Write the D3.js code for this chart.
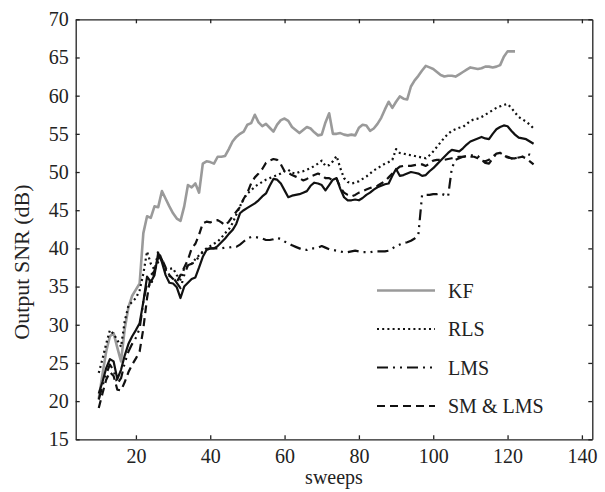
<!doctype html>
<html lang="en">
	<head>
		<meta charset="utf-8" />
		<title>Output SNR vs sweeps</title>
		<script type="text/javascript" src="https://cdn.jsdelivr.net/npm/d3@7"></script>
		<style>
			body { margin: 0; background: #fff; }
			svg text { font-family: "Liberation Serif", "Times New Roman", serif; fill: #222; }
		</style>
	</head>
	<body>
		<script type="text/javascript">
			var w = 605;
			var h = 492;

			// sweep numbers, one value per sweep
			var sweeps = d3.range(10, 128);
			var xTicks = [20, 40, 60, 80, 100, 120, 140];
			var yTicks = [15, 20, 25, 30, 35, 40, 45, 50, 55, 60, 65, 70];
			var legendNames = ["KF", "RLS", "LMS", "SM & LMS"];

			// KF stops at sweep 122
			var kfSNR = [20.3, 23.5, 26.5, 28.5, 28.9, 27.0, 25.2, 29.5, 32.3, 33.8,
				34.6, 35.4, 42.0, 44.2, 44.0, 45.5, 45.4, 47.5, 46.5, 45.5,
				44.6, 43.9, 43.6, 45.5, 48.3, 48.0, 48.5, 47.3, 51.1, 51.4,
				51.3, 51.1, 52.0, 52.0, 52.1, 53.0, 54.0, 54.6, 55.0, 55.3,
				56.2, 56.4, 57.5, 56.5, 56.0, 56.3, 55.8, 55.3, 56.2, 56.8,
				57.0, 56.7, 55.9, 55.5, 55.1, 55.5, 55.9, 55.7, 55.2, 54.8,
				54.9, 56.5, 57.7, 55.0, 55.0, 55.1, 54.9, 54.8, 54.9, 54.8,
				55.8, 56.2, 56.1, 55.4, 55.7, 56.3, 57.1, 58.2, 59.2, 58.4,
				59.2, 59.9, 59.6, 59.5, 61.2, 62.0, 62.6, 63.3, 63.9, 63.7,
				63.5, 63.1, 62.7, 62.5, 62.6, 62.6, 62.5, 62.8, 63.1, 63.4,
				63.7, 63.6, 63.5, 63.6, 63.8, 63.8, 63.7, 63.8, 64.0, 65.1,
				65.8, 65.8, 65.8];

			var rlsSNR = [23.7, 25.5, 27.5, 29.3, 28.8, 28.0, 27.1, 30.5, 32.5, 33.0,
				33.5, 34.5, 36.7, 39.6, 38.0, 37.2, 38.2, 38.5, 37.2, 37.3,
				37.4, 36.5, 35.9, 37.4, 37.7, 38.0, 38.6, 39.1, 39.6, 40.0,
				40.3, 40.6, 40.9, 41.4, 42.0, 42.5, 43.3, 44.4, 45.5, 46.5,
				47.2, 47.6, 48.1, 48.4, 48.7, 49.0, 49.2, 49.4, 49.6, 49.8,
				50.1, 50.3, 49.9, 49.8, 50.0, 50.1, 50.3, 50.5, 50.8, 51.1,
				51.5, 50.8, 50.9, 51.4, 52.1, 50.5, 49.2, 48.7, 48.5, 48.6,
				48.8, 49.1, 49.4, 49.8, 50.2, 50.5, 50.8, 51.1, 51.3, 51.6,
				53.0, 52.5, 52.4, 52.3, 52.2, 52.1, 52.0, 51.9, 51.8, 52.2,
				52.7, 53.3, 53.9, 54.5, 55.0, 55.4, 55.6, 55.8, 55.9, 56.3,
				56.7, 56.9, 57.0, 57.2, 57.5, 57.8, 58.1, 58.4, 58.6, 58.8,
				58.9, 58.4, 57.8, 57.2, 56.9, 56.6, 56.2, 55.7];

			// solid black curve, not named in the legend
			var solidSNR = [21.0, 22.5, 24.3, 25.5, 25.2, 22.9, 24.1, 26.0, 27.5, 28.5,
				29.3, 30.2, 33.0, 36.3, 35.6, 36.5, 39.4, 38.2, 36.5, 35.5,
				35.4, 34.9, 33.5, 35.0, 35.5, 36.0, 36.2, 37.5, 38.9, 39.8,
				40.0, 40.0, 40.3, 40.8, 41.3, 41.9, 42.4, 43.2, 44.6, 45.0,
				45.3, 45.6, 45.9, 46.3, 46.8, 47.2, 48.2, 49.1, 49.0, 48.5,
				47.6, 46.7, 46.9, 47.0, 47.1, 47.3, 47.5, 48.2, 48.6, 48.5,
				48.3, 47.6, 48.3, 49.0, 49.2, 47.8, 46.7, 46.3, 46.3, 46.4,
				46.3, 46.6, 47.0, 47.3, 47.7, 48.0, 48.2, 48.4, 48.5, 49.5,
				50.4, 49.5, 49.6, 49.8, 50.0, 49.9, 49.8, 49.5, 49.6, 50.1,
				50.5, 51.0, 51.5, 52.0, 52.5, 52.9, 52.8, 52.7, 53.1, 53.6,
				54.0, 54.2, 54.4, 54.6, 54.4, 54.3, 55.0, 55.6, 55.9, 56.1,
				56.0, 55.4, 54.9, 54.5, 54.4, 54.3, 54.0, 53.7];

			var lmsSNR = [20.2, 22.0, 23.5, 24.8, 24.0, 22.3, 23.0, 25.0, 26.5, 27.5,
				28.3, 29.5, 33.0, 35.5, 35.0, 37.0, 39.7, 38.5, 37.0, 36.4,
				36.2, 35.5, 34.8, 36.5, 37.8, 38.0, 38.2, 39.0, 39.5, 39.9,
				40.0, 40.0, 40.0, 40.0, 40.1, 40.1, 40.2, 40.2, 40.5, 40.9,
				41.3, 41.5, 41.5, 41.4, 41.3, 41.1, 41.1, 41.2, 41.4, 41.2,
				40.9, 40.7, 40.4, 40.2, 40.0, 39.8, 39.8, 40.0, 40.0, 40.1,
				40.3, 40.1, 39.9, 39.8, 39.7, 39.6, 39.5, 39.5, 39.6, 39.7,
				39.6, 39.5, 39.5, 39.5, 39.6, 39.6, 39.6, 39.6, 39.7, 40.0,
				40.3, 40.5, 40.7, 40.8, 41.0, 41.3, 41.8, 47.0, 47.0, 47.0,
				47.1, 47.1, 47.2, 47.0, 46.8, 50.5, 51.6, 51.8, 52.0, 52.1,
				52.2, 52.2, 52.1, 51.6, 51.2, 51.1, 51.8, 52.4, 52.5, 52.2,
				52.0, 51.8, 51.8, 51.9, 52.0, 52.2, 52.3, 52.2];

			var smSNR = [19.1, 21.0, 22.8, 23.8, 23.3, 21.5, 21.4, 22.5, 23.8, 24.8,
				25.6, 26.5, 29.5, 33.5, 36.5, 37.0, 38.8, 38.6, 37.5, 36.5,
				36.0, 35.6, 36.5, 37.5, 38.5, 40.0, 40.6, 41.8, 43.3, 43.5,
				43.4, 43.6, 43.7, 43.4, 43.0, 43.5, 44.2, 44.8, 45.4, 46.5,
				47.3, 48.5, 49.3, 49.8, 50.4, 51.2, 51.5, 51.7, 51.6, 51.0,
				50.1, 49.9, 49.6, 49.4, 49.2, 48.9, 49.1, 49.4, 49.6, 49.8,
				49.6, 49.2, 49.2, 48.9, 49.1, 48.0, 47.3, 47.0, 46.8, 47.0,
				47.3, 47.5, 47.7, 47.9, 48.1, 48.2, 48.5, 48.8, 49.3, 49.8,
				50.3, 50.7, 50.8, 50.8, 50.8, 50.9, 51.0, 51.0, 50.8, 51.1,
				51.5, 51.6, 51.6, 51.6, 51.7, 51.8, 51.9, 52.0, 52.0, 52.0,
				52.0, 52.0, 51.8, 51.5, 51.4, 51.6, 52.0, 52.4, 52.5, 52.2,
				51.9, 51.8, 51.8, 51.9, 52.0, 51.8, 51.4, 51.0];

			var plotLeft = 75.7, plotRight = 592.3, plotTop = 19.3, plotBottom = 439.3;

			var x = d3.scaleLinear().domain([3.8, 142.8]).range([plotLeft, plotRight]);
			var y = d3.scaleLinear().domain([15, 70]).range([plotBottom, plotTop]);

			var svg = d3.select("body")
				.append("svg")
				.attr("width", w)
				.attr("height", h);

			function pairUp(values) {
				return values.map(function(v, i) { return [sweeps[i], v]; });
			}

			var series = [
				{ values: kfSNR, color: "#9a9a9a", width: 2.6, dash: null },
				{ values: rlsSNR, color: "#111", width: 2.2, dash: "2,3.2" },
				{ values: solidSNR, color: "#111", width: 2.2, dash: null },
				{ values: lmsSNR, color: "#111", width: 2.2, dash: "11,5,2,5,2,5" },
				{ values: smSNR, color: "#111", width: 2.2, dash: "8,5" }
			];

			var line = d3.line()
				.x(function(d) { return x(d[0]); })
				.y(function(d) { return y(d[1]); });

			svg.append("g")
				.selectAll("path")
				.data(series)
				.enter()
				.append("path")
				.attr("d", function(d) { return line(pairUp(d.values)); })
				.attr("fill", "none")
				.attr("stroke", function(d) { return d.color; })
				.attr("stroke-width", function(d) { return d.width; })
				.attr("stroke-linejoin", "round")
				.attr("stroke-dasharray", function(d) { return d.dash; });

			// frame with inward ticks on all four sides
			var bottomAxis = d3.axisBottom(x).tickValues(xTicks).tickSizeInner(-4).tickSizeOuter(0).tickPadding(10);
			var topAxis = d3.axisTop(x).tickValues(xTicks).tickSizeInner(-4).tickSizeOuter(0).tickFormat("");
			var leftAxis = d3.axisLeft(y).tickValues(yTicks).tickSizeInner(-4).tickSizeOuter(0).tickPadding(7);
			var rightAxis = d3.axisRight(y).tickValues(yTicks).tickSizeInner(-4).tickSizeOuter(0).tickFormat("");

			function styleAxis(g) {
				g.attr("font-family", null);
				g.select(".domain").attr("stroke", "#222").attr("stroke-width", 1.3);
				g.selectAll(".tick line").attr("stroke", "#222").attr("stroke-width", 1.3);
				g.selectAll(".tick text")
					.attr("font-size", "20px")
					.attr("fill", "#222");
			}

			svg.append("g").attr("transform", "translate(0," + plotBottom + ")").call(bottomAxis).call(styleAxis);
			svg.append("g").attr("transform", "translate(0," + plotTop + ")").call(topAxis).call(styleAxis);
			svg.append("g").attr("transform", "translate(" + plotLeft + ",0)").call(leftAxis).call(styleAxis);
			svg.append("g").attr("transform", "translate(" + plotRight + ",0)").call(rightAxis).call(styleAxis);

			svg.append("text")
				.attr("x", (plotLeft + plotRight) / 2)
				.attr("y", 484)
				.attr("text-anchor", "middle")
				.attr("font-size", "20px")
				.text("sweeps");

			svg.append("text")
				.attr("transform", "translate(29,262) rotate(-90)")
				.attr("text-anchor", "middle")
				.attr("font-size", "22px")
				.text("Output SNR (dB)");

			// legend: the solid black curve has no entry
			var legendStyles = [series[0], series[1], series[3], series[4]];
			var legend = svg.append("g")
				.selectAll("g")
				.data(legendNames)
				.enter()
				.append("g")
				.attr("transform", function(d, i) { return "translate(377," + (290.5 + i * 38.5) + ")"; });

			legend.append("line")
				.attr("x1", 0)
				.attr("x2", 58)
				.attr("stroke", function(d, i) { return legendStyles[i].color; })
				.attr("stroke-width", function(d, i) { return legendStyles[i].width; })
				.attr("stroke-dasharray", function(d, i) { return legendStyles[i].dash; });

			legend.append("text")
				.attr("x", 71)
				.attr("dy", "0.35em")
				.attr("font-size", "20px")
				.text(function(d) { return d; });
		</script>
	</body>
</html>
